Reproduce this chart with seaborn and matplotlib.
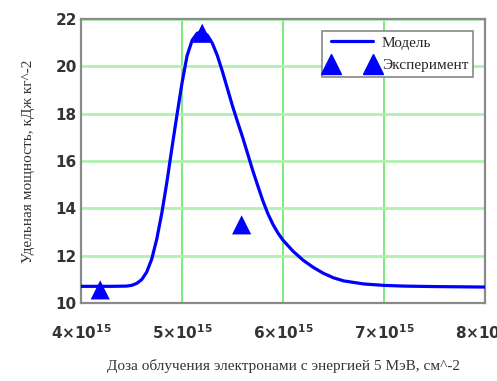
import matplotlib
matplotlib.use("Agg")
import matplotlib.pyplot as plt
import seaborn as sns
import pandas as pd
from matplotlib.lines import Line2D

# Model curve (dose in units of 1e15 cm^-2)
model_dose = [4.00, 4.30, 4.45, 4.50, 4.55, 4.60, 4.65, 4.70, 4.75, 4.80, 4.85,
              4.90, 4.95, 5.00, 5.05, 5.10, 5.15, 5.20, 5.25, 5.30, 5.35, 5.40,
              5.45, 5.50, 5.55, 5.60, 5.65, 5.70, 5.75, 5.80, 5.85, 5.90, 5.95,
              6.00, 6.10, 6.20, 6.30, 6.40, 6.50, 6.60, 6.80, 7.00, 7.20, 7.50, 8.00]
model_value = [10.70, 10.70, 10.71, 10.74, 10.82, 10.98, 11.30, 11.85, 12.70, 13.80, 15.10,
               16.55, 17.95, 19.30, 20.45, 21.10, 21.40, 21.45, 21.32, 20.98, 20.45, 19.78,
               19.05, 18.32, 17.65, 17.00, 16.30, 15.60, 14.95, 14.32, 13.77, 13.32, 12.95,
               12.65, 12.18, 11.80, 11.50, 11.25, 11.06, 10.93, 10.80, 10.74, 10.71, 10.69, 10.67]

# Experiment
exp_dose = [4.19, 5.20, 5.59]
exp_value = [10.55, 21.40, 13.30]

x_ticks = [4, 5, 6, 7, 8]
y_ticks = [10, 12, 14, 16, 18, 20, 22]

sns.set_theme(style="white")
plt.rcParams['font.family'] = ['DejaVu Sans']

fig = plt.figure(figsize=(4.97, 3.81), dpi=100)
ax = fig.add_axes([0.163, 0.205, 0.813, 0.745])

df_m = pd.DataFrame({"dose": model_dose, "value": model_value})
df_e = pd.DataFrame({"dose": exp_dose, "value": exp_value})

sns.lineplot(data=df_m, x="dose", y="value", ax=ax, color="#0000ff", linewidth=2.3,
             sort=False, estimator=None, zorder=3)
sns.scatterplot(data=df_e, x="dose", y="value", ax=ax, color="#0000ff", marker="^",
                s=190, edgecolor="none", linewidth=0, zorder=4)

ax.set_xlim(4, 8)
ax.set_ylim(10, 22)
ax.set_xticks(x_ticks)
ax.set_yticks(y_ticks)
ax.set_xticklabels([r"$\mathbf{%d{\times}10^{15}}$" % v for v in x_ticks])
ax.set_yticklabels([str(v) for v in y_ticks])
ax.tick_params(axis="both", length=0, colors="#333333", labelsize=11)
ax.tick_params(axis="x", pad=15)
ax.tick_params(axis="y", pad=3)
for lbl in ax.get_yticklabels():
    lbl.set_fontweight("bold")

ax.xaxis.grid(True, color="#72e872", linewidth=1.3)
ax.yaxis.grid(True, color="#b2f0b2", linewidth=2.0)
ax.set_axisbelow(True)
for sp in ax.spines.values():
    sp.set_color("#8a8a8a")
    sp.set_linewidth(1.6)

ax.set_xlabel("Доза облучения электронами с энергией 5 МэВ, см^-2",
              family="Liberation Serif", fontsize=11, color="#333333", labelpad=12)
ax.set_ylabel("Удельная мощность, кДж кг^-2",
              family="Liberation Serif", fontsize=11, color="#333333", labelpad=15)

handles = [Line2D([], [], color="#0000ff", linewidth=2.3),
           Line2D([], [], color="#0000ff", marker="^", linestyle="none", markersize=15)]
leg = ax.legend(handles, ["Модель", "Эксперимент"], loc="upper right",
                prop={"family": "Liberation Serif", "size": 11}, numpoints=2,
                handlelength=3.3, frameon=True, fancybox=False, framealpha=1,
                borderaxespad=0.8, borderpad=0.3, labelspacing=0.6, handletextpad=0.3)
leg.get_frame().set_edgecolor("#888888")
leg.get_frame().set_linewidth(1.2)

fig.savefig("out.png", dpi=100)
